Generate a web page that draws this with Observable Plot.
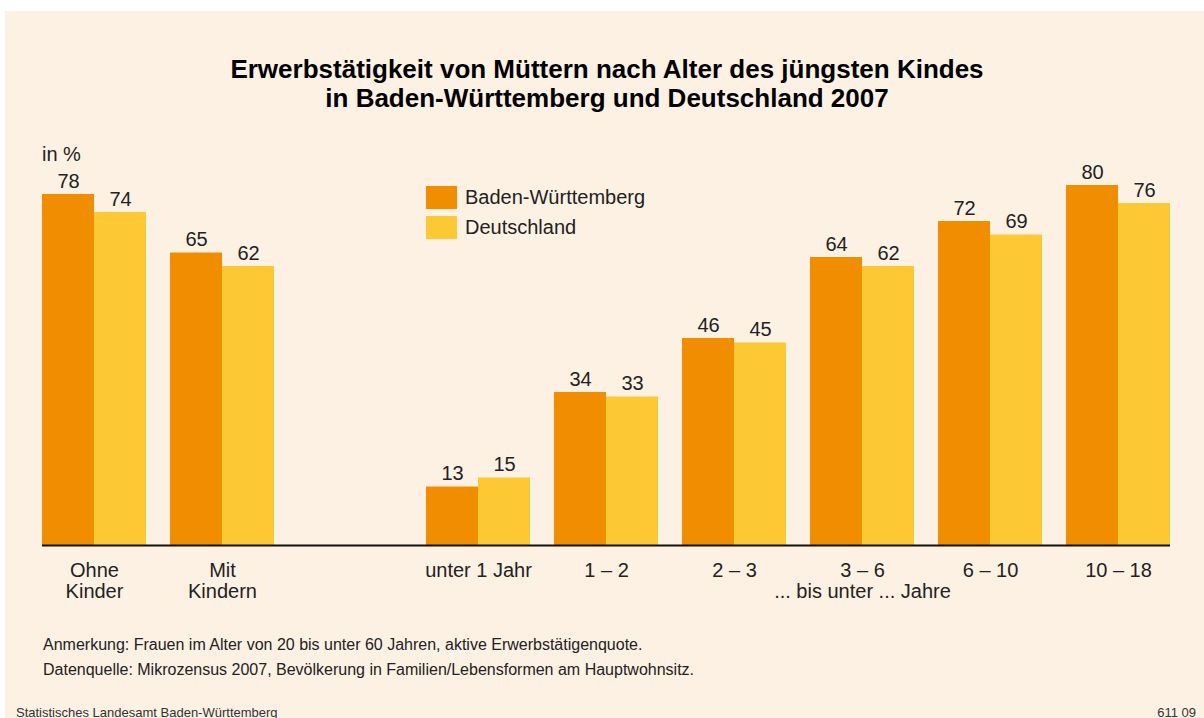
<!DOCTYPE html>
<html>
<head>
<meta charset="utf-8">
<script src="https://cdn.jsdelivr.net/npm/d3@7"></script>
<script src="https://cdn.jsdelivr.net/npm/@observablehq/plot@0.6"></script>
<style>
  html, body { margin: 0; padding: 0; background: #ffffff; width: 1204px; height: 718px; overflow: hidden; font-family: "Liberation Sans", Arial, sans-serif; }
  #panel { position: absolute; left: 5px; top: 11px; right: 0; bottom: 0; background: #fdf1e4; }
  .abs { position: absolute; white-space: nowrap; }
  .title { left: 0; width: 1214px; text-align: center; font-weight: bold; font-size: 26px; line-height: 28px; height: 28px; color: #000; }
  #unit { left: 42px; top: 143px; font-size: 20px; color: #222; }
  #legend { left: 426px; top: 182px; font-size: 20px; color: #222; }
  #legend .item { display: flex; align-items: center; height: 30px; }
  #legend .sw { width: 31px; height: 23px; margin-right: 8px; }
  #chart { left: 0; top: 130px; }
  .note { left: 43px; font-size: 16px; color: #222; }
  .foot { font-size: 13px; color: #333; }
</style>
</head>
<body>
<div id="panel"></div>
<div class="abs title" style="top:55px">Erwerbstätigkeit von Müttern nach Alter des jüngsten Kindes</div>
<div class="abs title" style="top:84px">in Baden-Württemberg und Deutschland 2007</div>
<div id="unit" class="abs">in %</div>
<div id="legend" class="abs"></div>
<div id="chart" class="abs"></div>
<div class="abs note" style="top:636px">Anmerkung: Frauen im Alter von 20 bis unter 60 Jahren, aktive Erwerbstätigenquote.</div>
<div class="abs note" style="top:661px">Datenquelle: Mikrozensus 2007, Bevölkerung in Familien/Lebensformen am Hauptwohnsitz.</div>
<div class="abs foot" style="left:16px; top:705px">Statistisches Landesamt Baden-Württemberg</div>
<div class="abs foot" style="right:8px; top:705px">611 09</div>
<script>
// ---- data ----
const categories = ["Ohne\nKinder", "Mit\nKindern", "unter 1 Jahr", "1 – 2", "2 – 3", "3 – 6", "6 – 10", "10 – 18"];
const spacerAfter = 1; // an empty slot after "Mit Kindern"
const seriesNames = ["Baden-Württemberg", "Deutschland"];
const valuesBW = [78, 65, 13, 34, 46, 64, 72, 80];
const valuesDE = [74, 62, 15, 33, 45, 62, 69, 76];
const groupAxisLabel = "... bis unter ... Jahre";
const groupAxisLabelAt = "3 – 6";
const colors = ["#f18e00", "#fcc833"];

// ---- layout ----
const W = 1204, H = 475, ml = 42, mr = 34, mt = 10, mb = 60;
const domainX = [...categories.slice(0, spacerAfter + 1), "", ...categories.slice(spacerAfter + 1)];
const padInner = 0.1875;
const step = (W - ml - mr) / (domainX.length - padInner);
const half = step * (1 - padInner) / 2;

const rowsBW = categories.map((c, i) => ({group: c, series: seriesNames[0], value: valuesBW[i]}));
const rowsDE = categories.map((c, i) => ({group: c, series: seriesNames[1], value: valuesDE[i]}));

// legend
const legend = document.getElementById("legend");
seriesNames.forEach((s, i) => {
  const it = document.createElement("div");
  it.className = "item";
  it.innerHTML = `<div class="sw" style="background:${colors[i]}"></div><span>${s}</span>`;
  legend.appendChild(it);
});

const plot = Plot.plot({
  width: W, height: H,
  marginLeft: ml, marginRight: mr, marginTop: mt, marginBottom: mb,
  style: {fontFamily: "Liberation Sans, Arial, sans-serif", background: "transparent", color: "#222", overflow: "visible"},
  x: {domain: domainX, paddingInner: padInner, paddingOuter: 0, align: 0},
  y: {domain: [0, 90], axis: null},
  marks: [
    Plot.barY(rowsBW, {x: "group", y: "value", fill: colors[0], insetRight: half}),
    Plot.barY(rowsDE, {x: "group", y: "value", fill: colors[1], insetLeft: half}),
    Plot.text(rowsBW, {x: "group", y: "value", text: d => String(d.value), dx: -half / 2, dy: -7, lineAnchor: "bottom", fontSize: 20, fill: "#222"}),
    Plot.text(rowsDE, {x: "group", y: "value", text: d => String(d.value), dx: half / 2, dy: -7, lineAnchor: "bottom", fontSize: 20, fill: "#222"}),
    Plot.ruleY([0], {stroke: "#111", strokeWidth: 2}),
    Plot.axisX({tickSize: 0, tickPadding: 17, fontSize: 20, lineHeight: 1.05, label: null, fill: "#222"}),
    Plot.text([groupAxisLabel], {x: () => groupAxisLabelAt, frameAnchor: "bottom", dy: 52, fontSize: 20, fill: "#222", text: d => d})
  ]
});
document.getElementById("chart").appendChild(plot);
</script>
</body>
</html>
